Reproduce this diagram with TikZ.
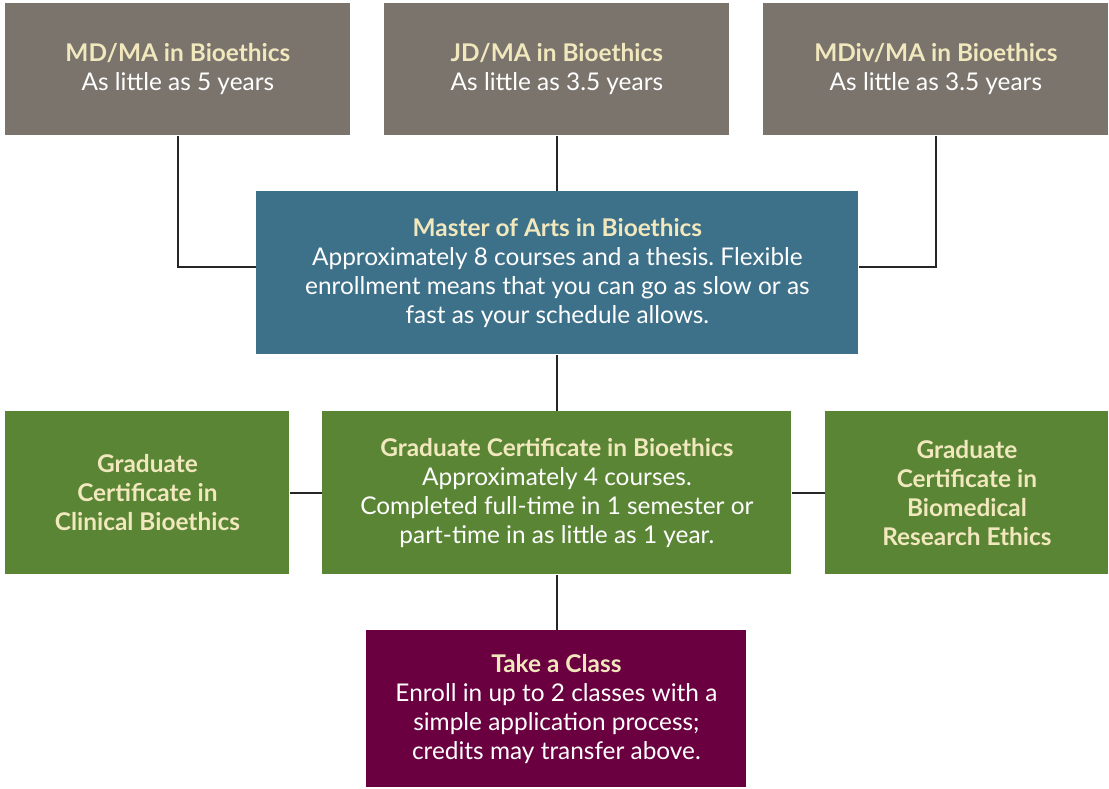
\documentclass[tikz,border=0pt]{standalone}
\usepackage{fontspec}
\setmainfont{Lato}
\frenchspacing
\definecolor{stone}{HTML}{7A746C}
\definecolor{slate}{HTML}{3D7089}
\definecolor{moss}{HTML}{5A8535}
\definecolor{plum}{HTML}{6B0040}
\definecolor{cream}{HTML}{F2E8BE}
\tikzstyle{program}=[anchor=north west, inner sep=0pt, align=center, text=white, font=\fontsize{12.2}{14.5}\selectfont]
\tikzstyle{link}=[line width=1pt, draw=black!85]
\newcommand{\heading}[1]{{\bfseries\color{cream}#1}}

\begin{document}
\begin{tikzpicture}[x=0.5pt, y=-0.5pt]
          \useasboundingbox (0, 0) rectangle (1109, 788);

          % joint degrees
          \node[program, fill=stone, minimum width=172.5pt, minimum height=66pt] (md) at (5, 3)
            {\heading{MD/MA in Bioethics}\\As little as 5 years};
          \node[program, fill=stone, minimum width=172.5pt, minimum height=66pt] (jd) at (384, 3)
            {\heading{JD/MA in Bioethics}\\As little as 3.5 years};
          \node[program, fill=stone, minimum width=172.5pt, minimum height=66pt] (mdiv) at (763, 3)
            {\heading{MDiv/MA in Bioethics}\\As little as 3.5 years};

          \node[program, fill=slate, minimum width=301pt, minimum height=81.5pt] (ma) at (256, 191)
            {\heading{Master of Arts in Bioethics}\\Approximately 8 courses and a thesis. Flexible\\
             enrollment means that you can go as slow or as\\fast as your schedule allows.};

          % certificates
          \node[program, fill=moss, minimum width=142pt, minimum height=81.5pt] (gcc) at (5, 411)
            {\heading{Graduate}\\\heading{Certificate in}\\\heading{Clinical Bioethics}};
          \node[program, fill=moss, minimum width=234.5pt, minimum height=81.5pt] (gc) at (322, 411)
            {\heading{Graduate Certificate in Bioethics}\\Approximately 4 courses.\\
             Completed full-time in 1 semester or\\part-time in as little as 1 year.};
          \node[program, fill=moss, minimum width=141.5pt, minimum height=81.5pt] (gcr) at (825, 411)
            {\heading{Graduate}\\\heading{Certificate in}\\\heading{Biomedical}\\\heading{Research Ethics}};

          \node[program, fill=plum, minimum width=190pt, minimum height=78.5pt] (tc) at (366, 630)
            {\heading{Take a Class}\\Enroll in up to 2 classes with a\\
             simple application process;\\credits may transfer above.};

          \draw[link] (md.south) |- ([yshift=3pt]ma.west);
          \draw[link] (mdiv.south) |- ([yshift=3pt]ma.east);
          \draw[link] (jd.south) -- (jd.south |- ma.north);
          \draw[link] (ma.south) -- (ma.south |- gc.north);
          \draw[link] (gcc.east) -- (gc.west);
          \draw[link] (gc.east) -- (gcr.west);
          \draw[link] (gc.south) -- (gc.south |- tc.north);
        \end{tikzpicture}
\end{document}
